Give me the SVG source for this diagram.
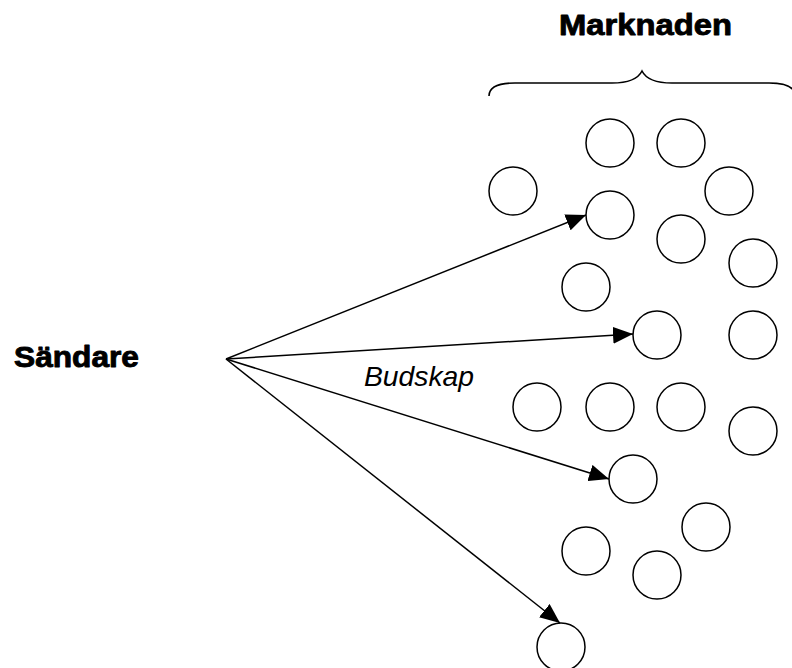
<svg xmlns="http://www.w3.org/2000/svg" width="792" height="668" viewBox="0 0 792 668">
  <style>
    .heavy { font-family: "Liberation Sans", Arial, sans-serif; font-weight: 900; fill: #000; stroke: #000; stroke-width: 0.9; stroke-linejoin: round; }
    .label { font-family: "Liberation Sans", Arial, sans-serif; font-style: italic; font-size: 28px; fill: #000; }
    .market circle { fill: #fff; stroke: #000; stroke-width: 1.5; }
    .brace { fill: none; stroke: #000; stroke-width: 1.6; }
    .msg { stroke: #000; stroke-width: 1.5; fill: none; marker-end: url(#head); }
  </style>
  <defs>
    <marker id="head" markerUnits="userSpaceOnUse" markerWidth="20" markerHeight="17" refX="20" refY="8.5" orient="auto">
      <path d="M0,0 L20,8.5 L0,17 z" fill="#000"/>
    </marker>
  </defs>

  <rect width="792" height="668" fill="#fff"/>

  <!-- sender -->
  <g id="sender">
    <text class="heavy" x="14" y="367" font-size="29" textLength="125" lengthAdjust="spacingAndGlyphs">Sändare</text>
  </g>

  <!-- market heading with brace -->
  <g id="market-heading">
    <text class="heavy" x="559" y="35" font-size="30" textLength="173" lengthAdjust="spacingAndGlyphs">Marknaden</text>
    <path class="brace" d="M489,96 C489,88 497,83 515,83 L612,83 C628,83 638,79 642,71 C646,79 656,83 672,83 L769,83 C787,83 795,88 795,96"/>
  </g>

  <!-- market members -->
  <g id="market" class="market">
    <circle id="m1" cx="610" cy="143" r="24"/>
    <circle id="m2" cx="681" cy="143" r="24"/>
    <circle id="m3" cx="513" cy="191" r="24"/>
    <circle id="m4" cx="729" cy="191" r="24"/>
    <circle id="m5" cx="610" cy="215" r="24"/>
    <circle id="m6" cx="681" cy="239" r="24"/>
    <circle id="m7" cx="753" cy="263" r="24"/>
    <circle id="m8" cx="586" cy="287" r="24"/>
    <circle id="m9" cx="657" cy="335" r="24"/>
    <circle id="m10" cx="753" cy="335" r="24"/>
    <circle id="m11" cx="537" cy="407" r="24"/>
    <circle id="m12" cx="610" cy="407" r="24"/>
    <circle id="m13" cx="681" cy="407" r="24"/>
    <circle id="m14" cx="753" cy="431" r="24"/>
    <circle id="m15" cx="633" cy="479" r="24"/>
    <circle id="m16" cx="706" cy="527" r="24"/>
    <circle id="m17" cx="586" cy="551" r="24"/>
    <circle id="m18" cx="657" cy="575" r="24"/>
    <circle id="m19" cx="561" cy="647" r="24"/>
  </g>

  <!-- messages from sender to market -->
  <g id="connectors">
    <line class="msg" x1="226" y1="359" x2="586" y2="215"/>
    <line class="msg" x1="226" y1="359" x2="633" y2="334"/>
    <line class="msg" x1="226" y1="359" x2="609" y2="479"/>
    <line class="msg" x1="226" y1="359" x2="560" y2="623"/>
  </g>

  <g id="message-label">
    <text class="label" x="364" y="386" textLength="110" lengthAdjust="spacingAndGlyphs">Budskap</text>
  </g>
</svg>
